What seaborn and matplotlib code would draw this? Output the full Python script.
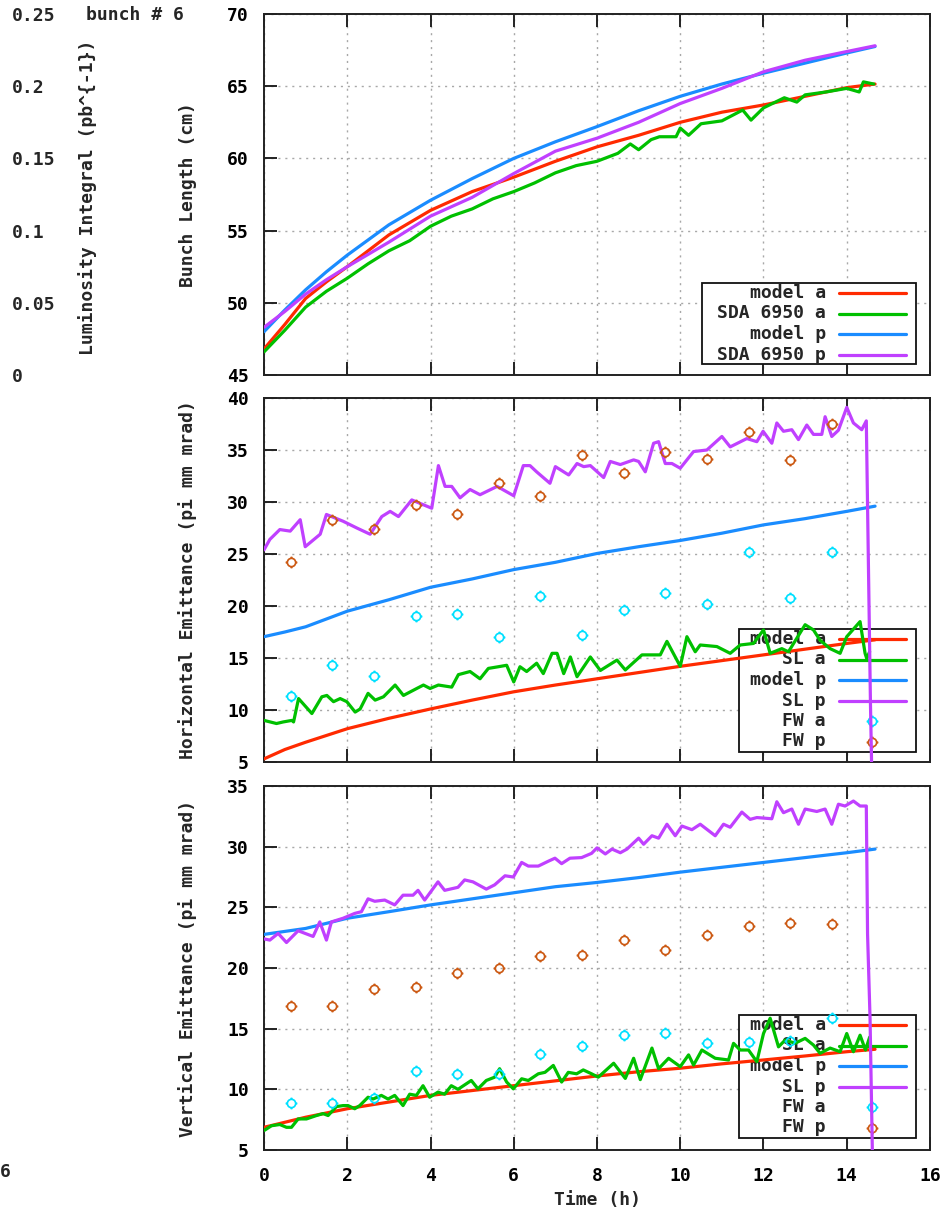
import matplotlib
matplotlib.use("Agg")
import matplotlib.pyplot as plt
from matplotlib.path import Path
from matplotlib.lines import Line2D
from matplotlib.patches import Rectangle
import seaborn as sns

# ---------------- data ----------------
# bunch length panel
bl_model_t = [0, 0.5, 1, 1.5, 2, 3, 4, 5, 6, 7, 8, 9, 10, 11, 12, 13, 14, 14.68]
bl_model_a = [46.8, 48.5, 50.3, 51.45, 52.5, 54.7, 56.4, 57.7, 58.7, 59.8, 60.8, 61.6,
              62.5, 63.2, 63.7, 64.3, 64.9, 65.15]
bl_model_p = [48.0, 49.5, 50.9, 52.15, 53.3, 55.4, 57.1, 58.6, 60.0, 61.15, 62.2, 63.3,
              64.3, 65.15, 65.9, 66.6, 67.3, 67.75]
bl_sda_p = [48.3, 49.4, 50.6, 51.6, 52.5, 54.2, 56.0, 57.3, 58.95, 60.5, 61.4, 62.5,
            63.8, 64.85, 66.0, 66.8, 67.4, 67.8]
bl_sda_a_t = [0, 0.5, 1, 1.5, 2, 2.5, 3, 3.5, 4, 4.5, 5, 5.5, 6, 6.5, 7, 7.5, 8, 8.5,
              8.8, 9.0, 9.3, 9.5, 9.9, 10.0, 10.2, 10.5, 11.0, 11.5, 11.7, 12.0, 12.5,
              12.8, 13.0, 13.5, 14.0, 14.3, 14.4, 14.65]
bl_sda_a = [46.6, 48.1, 49.7, 50.8, 51.7, 52.7, 53.6, 54.3, 55.3, 56.0, 56.5, 57.2,
            57.7, 58.3, 59.0, 59.5, 59.8, 60.35, 61.0, 60.6, 61.3, 61.5, 61.5, 62.1,
            61.6, 62.4, 62.6, 63.35, 62.65, 63.5, 64.2, 63.9, 64.4, 64.6, 64.85, 64.6,
            65.3, 65.15]

# horizontal emittance panel
h_model_t = [0, 0.5, 1, 2, 3, 4, 5, 6, 7, 8, 9, 10, 11, 12, 13, 14, 14.68]
h_model_a = [5.3, 6.2, 6.9, 8.2, 9.2, 10.1, 10.95, 11.75, 12.4, 13.0, 13.6, 14.2,
             14.75, 15.3, 15.85, 16.4, 16.75]
h_model_p = [17.05, 17.5, 18.0, 19.5, 20.6, 21.8, 22.6, 23.5, 24.2, 25.05, 25.7, 26.3,
             27.0, 27.8, 28.4, 29.1, 29.6]
h_sl_a_t = [0, 0.3, 0.46, 0.67, 0.71, 0.83, 1.15, 1.39, 1.51, 1.67, 1.83, 1.99, 2.19,
            2.31, 2.5, 2.67, 2.87, 3.15, 3.35, 3.67, 3.83, 3.99, 4.19, 4.51, 4.67, 4.95,
            5.19, 5.39, 5.63, 5.83, 6.0, 6.15, 6.31, 6.55, 6.71, 6.92, 7.04, 7.2, 7.36,
            7.52, 7.84, 8.08, 8.48, 8.68, 9.08, 9.52, 9.68, 10.0, 10.16, 10.36, 10.48,
            10.88, 11.2, 11.44, 11.76, 12.0, 12.16, 12.44, 12.6, 13.0, 13.2, 13.36, 13.6,
            13.84, 14.0, 14.32, 14.44, 14.48, 14.55]
h_sl_a = [9.0, 8.7, 8.85, 9.0, 8.85, 11.1, 9.66, 11.27, 11.4, 10.8, 11.1, 10.8, 9.8,
          10.1, 11.6, 10.95, 11.27, 12.4, 11.4, 12.07, 12.4, 12.07, 12.4, 12.2, 13.4,
          13.7, 13.0, 14.0, 14.16, 14.3, 12.7, 14.16, 13.7, 14.5, 13.5, 15.45, 15.45,
          13.5, 15.1, 13.2, 15.1, 13.8, 14.8, 13.85, 15.3, 15.3, 16.6, 14.2, 17.05,
          15.6, 16.25, 16.1, 15.45, 16.25, 16.4, 17.7, 15.45, 15.9, 15.6, 18.2, 17.7,
          16.7, 15.9, 15.45, 17.05, 18.5, 15.45, 14.95, 15.6]
h_sl_p_t = [0, 0.14, 0.38, 0.63, 0.87, 0.99, 1.35, 1.5, 1.9, 2.23, 2.55, 2.83, 3.03,
            3.23, 3.55, 4.03, 4.19, 4.35, 4.51, 4.71, 4.95, 5.19, 5.6, 6.0, 6.23, 6.39,
            6.55, 6.87, 7.0, 7.32, 7.52, 7.68, 7.84, 8.16, 8.32, 8.56, 8.88, 9.0, 9.16,
            9.36, 9.48, 9.64, 9.8, 10.0, 10.32, 10.64, 11.0, 11.2, 11.6, 11.84, 11.99,
            12.2, 12.32, 12.48, 12.68, 12.84, 13.04, 13.2, 13.4, 13.48, 13.64, 13.8,
            14.0, 14.16, 14.36, 14.47, 14.49, 14.53, 14.57, 14.62]
h_sl_p = [25.4, 26.4, 27.35, 27.2, 28.3, 25.7, 26.9, 28.8, 28.15, 27.5, 26.9, 28.6,
          29.1, 28.6, 30.2, 29.4, 33.5, 31.5, 31.5, 30.4, 31.2, 30.7, 31.5, 30.6, 33.5,
          33.5, 32.9, 31.8, 33.4, 32.6, 33.7, 33.4, 33.5, 32.35, 33.9, 33.6, 34.05,
          33.9, 32.9, 35.65, 35.8, 33.7, 33.7, 33.25, 34.85, 35.0, 36.3, 35.3, 36.1,
          35.8, 36.8, 35.65, 37.6, 36.8, 36.95, 36.0, 37.4, 36.5, 36.5, 38.2, 36.3,
          36.9, 39.1, 37.6, 36.95, 37.8, 32.3, 21.4, 10.5, 0.0]

# vertical emittance panel
v_model_t = [0, 1, 2, 3, 4, 5, 6, 7, 8, 9, 10, 11, 12, 13, 14, 14.68]
v_model_a = [6.87, 7.7, 8.4, 8.95, 9.5, 9.9, 10.3, 10.7, 11.1, 11.45, 11.74, 12.1,
             12.42, 12.75, 13.1, 13.3]
v_model_p = [22.77, 23.26, 24.1, 24.64, 25.2, 25.7, 26.2, 26.7, 27.05, 27.45, 27.9,
             28.3, 28.7, 29.1, 29.5, 29.8]
v_sl_a_t = [0, 0.18, 0.38, 0.54, 0.66, 0.82, 1.02, 1.26, 1.42, 1.54, 1.74, 1.9, 2.02,
            2.18, 2.3, 2.5, 2.62, 2.82, 2.98, 3.14, 3.34, 3.5, 3.66, 3.82, 3.98, 4.18,
            4.34, 4.5, 4.66, 4.98, 5.14, 5.34, 5.54, 5.66, 5.83, 5.99, 6.19, 6.35, 6.59,
            6.75, 6.95, 7.15, 7.31, 7.51, 7.67, 7.87, 8.03, 8.4, 8.68, 8.88, 9.04, 9.32,
            9.48, 9.72, 10.0, 10.2, 10.32, 10.52, 10.84, 11.16, 11.28, 11.44, 11.64,
            11.84, 12.0, 12.16, 12.36, 12.52, 12.76, 13.0, 13.2, 13.36, 13.6, 13.84,
            14.0, 14.16, 14.32, 14.45, 14.55]
v_sl_a = [6.6, 7.0, 7.1, 6.87, 6.87, 7.56, 7.56, 7.84, 8.0, 7.84, 8.58, 8.66, 8.66,
          8.4, 8.66, 9.35, 9.2, 9.5, 9.2, 9.5, 8.66, 9.6, 9.5, 10.3, 9.35, 9.77, 9.6,
          10.3, 10.0, 10.73, 10.04, 10.73, 11.0, 11.7, 10.6, 10.04, 10.87, 10.73, 11.28,
          11.4, 11.97, 10.6, 11.4, 11.28, 11.6, 11.28, 11.0, 12.15, 10.9, 12.56, 10.8,
          13.4, 11.7, 12.56, 11.87, 12.84, 12.0, 13.24, 12.56, 12.42, 13.79, 13.24,
          13.24, 12.28, 14.6, 15.86, 13.5, 14.06, 13.8, 14.2, 13.65, 12.97, 13.4, 13.1,
          14.6, 13.1, 14.46, 13.24, 14.3]
v_sl_p_t = [0, 0.14, 0.34, 0.54, 0.82, 1.18, 1.34, 1.5, 1.62, 1.9, 2.18, 2.34, 2.5,
            2.66, 2.9, 3.14, 3.34, 3.58, 3.7, 3.86, 4.18, 4.34, 4.66, 4.82, 5.02, 5.34,
            5.54, 5.79, 5.99, 6.19, 6.35, 6.59, 6.83, 6.99, 7.15, 7.35, 7.63, 7.87, 8.0,
            8.2, 8.36, 8.56, 8.72, 9.0, 9.12, 9.32, 9.48, 9.68, 9.88, 10.04, 10.28,
            10.48, 10.84, 11.04, 11.2, 11.48, 11.68, 11.84, 12.2, 12.32, 12.48, 12.68,
            12.84, 13.0, 13.28, 13.48, 13.64, 13.8, 13.96, 14.16, 14.32, 14.47, 14.5,
            14.56, 14.64]
v_sl_p = [22.4, 22.3, 22.85, 22.1, 23.07, 22.6, 23.8, 22.3, 23.8, 24.1, 24.5, 24.64,
          25.7, 25.5, 25.6, 25.2, 26.0, 26.0, 26.4, 25.6, 27.1, 26.4, 26.65, 27.26, 27.1,
          26.5, 26.85, 27.6, 27.5, 28.7, 28.4, 28.4, 28.8, 29.05, 28.6, 29.05, 29.1,
          29.45, 29.9, 29.4, 29.8, 29.5, 29.8, 30.7, 30.2, 30.9, 30.7, 31.85, 30.9, 31.7,
          31.4, 31.85, 30.9, 31.85, 31.6, 32.85, 32.25, 32.4, 32.3, 33.7, 32.8, 33.1,
          31.85, 33.1, 32.9, 33.1, 31.85, 33.5, 33.35, 33.76, 33.35, 33.35, 22.8, 15.8,
          0.0]

# flying-wire measurements (one per hour)
fw_t = [0.64, 1.64, 2.64, 3.64, 4.64, 5.64, 6.64, 7.64, 8.64, 9.64, 10.64, 11.64,
        12.64, 13.64]
h_fw_a = [11.33, 14.3, 13.3, 19.05, 19.2, 17.06, 21.0, 17.2, 19.6, 21.25, 20.2, 25.2,
          20.8, 25.2]
h_fw_p = [24.2, 28.3, 27.45, 29.7, 28.8, 31.8, 30.6, 34.5, 32.8, 34.76, 34.15, 36.7,
          34.0, 37.5]
v_fw_a = [8.9, 8.9, 9.27, 11.47, 11.23, 11.23, 12.93, 13.57, 14.45, 14.67, 13.85, 13.9,
          14.0, 15.9]
v_fw_p = [16.9, 16.9, 18.3, 18.47, 19.6, 20.0, 20.95, 21.06, 22.3, 21.5, 22.7, 23.46,
          23.74, 23.6]

# axis texts
x_ticks = [0, 2, 4, 6, 8, 10, 12, 14, 16]
bl_ticks = [45, 50, 55, 60, 65, 70]
h_ticks = [5, 10, 15, 20, 25, 30, 35, 40]
v_ticks = [5, 10, 15, 20, 25, 30, 35]
lumi_ticks = [0, 0.05, 0.1, 0.15, 0.2, 0.25]
lumi_tick_labels = ["0", "0.05", "0.1", "0.15", "0.2", "0.25"]
top_labels = ["model a", "SDA 6950 a", "model p", "SDA 6950 p"]
emit_labels = ["model a", "SL a", "model p", "SL p", "FW a", "FW p"]

RED, GREEN, BLUE, MAGENTA = "#ff2a00", "#00c000", "#1a8cff", "#c040ff"
CYAN, BROWN = "#00e0ff", "#cc5a14"

# ---------------- style ----------------
sns.set_theme(style="white")
plt.rcParams["font.family"] = ["DejaVu Sans Mono", "DejaVu Sans"]
plt.rcParams["font.weight"] = "bold"
plt.rcParams["font.size"] = 13
plt.rcParams["axes.labelweight"] = "bold"

W, H = 940, 1212
fig = plt.figure(figsize=(W / 100, H / 100), dpi=100, facecolor="white")


def px_box(left, top, right, bottom):
    return [left / W, 1 - bottom / H, (right - left) / W, (bottom - top) / H]


def fx(px):
    return px / W


def fy(py):
    return 1 - py / H


# ring with four short spikes (point style of the wire scans)
_circ = Path.circle((0, 0), 0.62)
_spk = Path([(0, 0.62), (0, 0.88), (0, -0.62), (0, -0.88),
             (0.62, 0), (0.88, 0), (-0.62, 0), (-0.88, 0)],
            [Path.MOVETO, Path.LINETO] * 4)
FW_MARKER = Path.make_compound_path(_circ, _spk)
FW_SIZE = 8.5
FW_EW = 1.25

ax_bl = fig.add_axes(px_box(264, 14, 930, 375))
ax_h = fig.add_axes(px_box(264, 398, 930, 762))
ax_v = fig.add_axes(px_box(264, 786, 930, 1150))


def style_axes(ax, yticks, ylim, show_x):
    ax.set_xlim(0, 16)
    ax.set_ylim(*ylim)
    ax.set_xticks(x_ticks)
    ax.set_yticks(yticks)
    ax.set_axisbelow(True)
    ax.grid(True, color="#a8a8a8", linestyle=(0, (1.5, 3.5)), linewidth=1.0)
    for s in ax.spines.values():
        s.set_visible(True)
        s.set_color("#222222")
        s.set_linewidth(1.4)
    ax.tick_params(axis="both", direction="in", length=9.5, width=1.4, color="#222222",
                   top=True, right=False, left=True, bottom=True,
                   labelsize=13, labelcolor="black")
    ax.tick_params(axis="y", pad=11)
    ax.tick_params(axis="x", pad=12, labelbottom=show_x)
    for lab in ax.get_yticklabels() + ax.get_xticklabels():
        lab.set_fontweight("bold")
    ax.set_xlabel("")


def line(ax, t, v, color):
    sns.lineplot(x=t, y=v, ax=ax, color=color, linewidth=2.3, estimator=None,
                 sort=False, zorder=3)


def points(ax, t, v, color):
    sns.lineplot(x=t, y=v, ax=ax, color=color, linestyle="", marker=FW_MARKER,
                 markersize=FW_SIZE, markerfacecolor="none", markeredgecolor=color,
                 markeredgewidth=FW_EW, estimator=None, sort=False, zorder=4)


def key(ax, box, labels, kinds, colors):
    l, t, r, b = box
    ax.add_patch(Rectangle((fx(l), fy(b)), fx(r) - fx(l), fy(t) - fy(b),
                           transform=fig.transFigure, facecolor="white",
                           edgecolor="#111111", linewidth=1.3, zorder=1.5,
                           clip_on=False))
    for i, (lab, kind, c) in enumerate(zip(labels, kinds, colors)):
        y = t + 10 + 20.5 * i
        ax.text(fx(826), fy(y), lab, transform=fig.transFigure, ha="right",
                va="center", fontsize=13, fontweight="bold", zorder=1.6)
        if kind == "line":
            ax.add_line(Line2D([fx(839), fx(906)], [fy(y), fy(y)],
                               transform=fig.transFigure, color=c, linewidth=2.3,
                               zorder=1.7, clip_on=False))
        else:
            ax.add_line(Line2D([fx(872)], [fy(y)], transform=fig.transFigure,
                               linestyle="", marker=FW_MARKER, markersize=FW_SIZE,
                               markerfacecolor="none", markeredgecolor=c,
                               markeredgewidth=FW_EW, zorder=1.7, clip_on=False))


# ---- bunch length ----
style_axes(ax_bl, bl_ticks, (45, 70), False)
line(ax_bl, bl_model_t, bl_model_a, RED)
line(ax_bl, bl_sda_a_t, bl_sda_a, GREEN)
line(ax_bl, bl_model_t, bl_model_p, BLUE)
line(ax_bl, bl_model_t, bl_sda_p, MAGENTA)
ax_bl.set_ylabel("Bunch Length (cm)", fontsize=13, fontweight="bold")
key(ax_bl, (702, 283, 916, 364), top_labels, ["line"] * 4, [RED, GREEN, BLUE, MAGENTA])

# ---- horizontal emittance ----
style_axes(ax_h, h_ticks, (5, 40), False)
line(ax_h, h_model_t, h_model_a, RED)
line(ax_h, h_sl_a_t, h_sl_a, GREEN)
line(ax_h, h_model_t, h_model_p, BLUE)
line(ax_h, h_sl_p_t, h_sl_p, MAGENTA)
points(ax_h, fw_t, h_fw_a, CYAN)
points(ax_h, fw_t, h_fw_p, BROWN)
ax_h.set_ylabel("Horizontal Emittance (pi mm mrad)", fontsize=13, fontweight="bold")
key(ax_h, (739, 629, 916, 752), emit_labels, ["line"] * 4 + ["pt"] * 2,
    [RED, GREEN, BLUE, MAGENTA, CYAN, BROWN])

# ---- vertical emittance ----
style_axes(ax_v, v_ticks, (5, 35), True)
line(ax_v, v_model_t, v_model_a, RED)
line(ax_v, v_sl_a_t, v_sl_a, GREEN)
line(ax_v, v_model_t, v_model_p, BLUE)
line(ax_v, v_sl_p_t, v_sl_p, MAGENTA)
points(ax_v, fw_t, v_fw_a, CYAN)
points(ax_v, fw_t, v_fw_p, BROWN)
ax_v.set_ylabel("Vertical Emittance (pi mm mrad)", fontsize=13, fontweight="bold")
ax_v.set_xlabel("Time (h)", fontsize=13, fontweight="bold")
ax_v.xaxis.set_label_coords(0.5, -0.113)
key(ax_v, (739, 1015, 916, 1138), emit_labels, ["line"] * 4 + ["pt"] * 2,
    [RED, GREEN, BLUE, MAGENTA, CYAN, BROWN])

for ax in (ax_bl, ax_h, ax_v):
    ax.yaxis.set_label_coords(-0.1, 0.5)

# ---- luminosity scale on the far left ----
ax_lumi = fig.add_axes(px_box(11, 14, 12, 375))
ax_lumi.set_ylim(0, 0.25)
ax_lumi.set_yticks(lumi_ticks)
ax_lumi.set_yticklabels(lumi_tick_labels, fontsize=13, fontweight="bold")
ax_lumi.yaxis.tick_right()
ax_lumi.tick_params(axis="y", length=0, pad=0)
ax_lumi.set_xticks([])
ax_lumi.patch.set_visible(False)
for s in ax_lumi.spines.values():
    s.set_visible(False)

fig.text(fx(88), fy(197), "Luminosity Integral (pb^{-1})", rotation=90, ha="center",
         va="center", fontsize=13, fontweight="bold")
fig.text(fx(86), fy(15), "bunch # 6", ha="left", va="center", fontsize=13,
         fontweight="bold")
fig.text(fx(0), fy(1172), "6", ha="left", va="center", fontsize=13, fontweight="bold")

fig.savefig("out.png", dpi=100, facecolor="white")
